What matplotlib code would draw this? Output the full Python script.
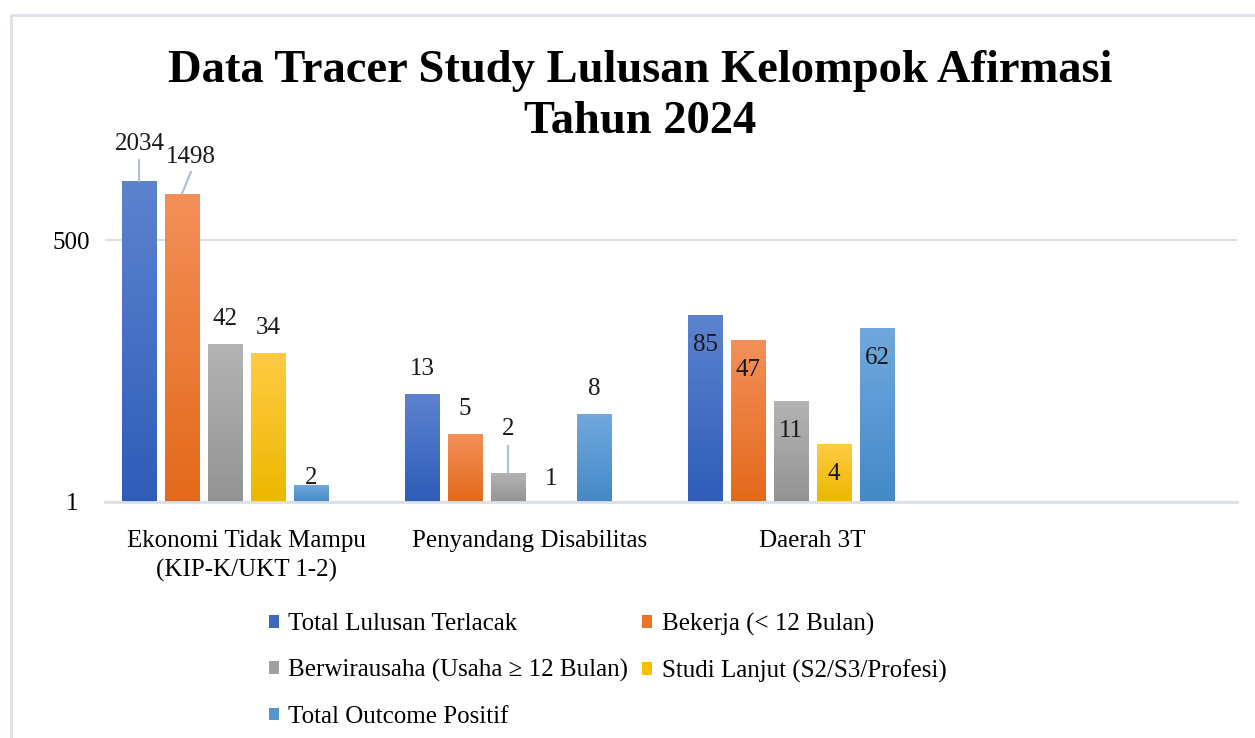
#!/usr/bin/env python3
# -*- coding: utf-8 -*-
"""
Data Tracer Study Lulusan Kelompok Afirmasi 2024 - bar chart (log scale)
"""
import matplotlib
matplotlib.use('Agg')
import matplotlib.pyplot as plt
import matplotlib.colors as mcolors
from matplotlib.patches import Patch, Rectangle
import numpy as np

plt.rcParams['font.family'] = ['Liberation Serif', 'DejaVu Serif']

# ============================================
# data
# ============================================
categories = ['Ekonomi Tidak Mampu\n(KIP-K/UKT 1-2)', 'Penyandang Disabilitas', 'Daerah 3T', '']
series = ['Total Lulusan Terlacak', 'Bekerja (< 12 Bulan)',
          'Berwirausaha (Usaha ≥ 12 Bulan)', 'Studi Lanjut (S2/S3/Profesi)',
          'Total Outcome Positif']
total_terlacak = [2034, 13, 85]
bekerja = [1498, 5, 47]
berwirausaha = [42, 2, 11]
studi_lanjut = [34, 1, 4]
outcome_positif = [1.5, 8, 62]
values = [total_terlacak, bekerja, berwirausaha, studi_lanjut, outcome_positif]

# gradient colours (top, bottom)
grad = [('#5C82CE', '#2E5CB8'),
        ('#F28F58', '#E3691B'),
        ('#B3B3B3', '#939393'),
        ('#FFCB42', '#EBB700'),
        ('#70A8DD', '#4488C7')]
legend_cols = ['#3F68C0', '#EA7426', '#A0A0A0', '#FAC000', '#5496D2']

# ============================================
# figure
# ============================================
W, H = 1255, 738
fig = plt.figure(figsize=(W / 100, H / 100), dpi=100)

def fx(px):
    return px / W

def fy(py):
    return 1 - py / H

# chart border
fig.patches.append(Rectangle((fx(11), fy(800)), fx(1300), fy(15) - fy(800),
                             transform=fig.transFigure, fill=False,
                             edgecolor='#DCE1E8', linewidth=2))

ax_top = 150
ax = fig.add_axes([fx(105), fy(502), fx(1237) - fx(105), fy(ax_top) - fy(502)])
ax.set_yscale('log', base=500)
ax.set_ylim(1, 500 ** ((502 - ax_top) / 262))
ax.set_xlim(0, 4)

slot = 43 / 283
bw = 35 / 283
for j, vals in enumerate(values):
    cmap = mcolors.LinearSegmentedColormap.from_list('g%d' % j, [grad[j][1], grad[j][0]])
    xs = np.arange(len(vals)) + 0.5 + (j - 2.5) * slot
    bars = ax.bar(xs, np.array(vals) - 1, width=bw, bottom=1, color='none',
                  edgecolor='none')
    for b, v in zip(bars, vals):
        if v <= 1:
            continue
        x0 = b.get_x()
        yy = np.geomspace(1, v, 60)
        ax.pcolormesh([x0, x0 + bw], yy, np.linspace(0, 1, 59).reshape(-1, 1),
                      cmap=cmap, shading='flat', zorder=2)

# ============================================
# data labels (offset in pixels from bar top), keys = (series, category)
# ============================================
fs = 18
special = {(0, 0): (1, 37), (1, 0): (9, 37), (2, 1): (0, 44),
           (4, 0): (0, 7), (3, 1): (0, 23)}
leader = {(0, 0): (0, 21), (1, 0): (9, 22), (2, 1): (0, 27)}
for j, vals in enumerate(values):
    for i, v in enumerate(vals):
        x = i + 0.5 + (j - 2.5) * slot
        if (j, i) in special:
            dx, dy = special[(j, i)]
        elif i == 2:
            dx, dy = 0, -30
        else:
            dx, dy = 0, 25
        ax.annotate('%.0f' % v, (x, v), xytext=(dx * 0.72, dy * 0.72),
                    textcoords='offset points', ha='center', va='center',
                    fontsize=fs, color='#1A1A1A', zorder=5, annotation_clip=False)
        if (j, i) in leader:
            lx, ly = leader[(j, i)]
            ax.annotate('', (x, v), xytext=(lx * 0.72, ly * 0.72),
                        textcoords='offset points',
                        arrowprops=dict(arrowstyle='-', color='#B4C0D6', lw=1.6,
                                        shrinkA=0, shrinkB=0))

# ============================================
# axes styling
# ============================================
ax.set_yticks([1, 500])
ax.set_yticklabels(['1', '500'], fontsize=fs, ha='center')
ax.yaxis.set_minor_locator(matplotlib.ticker.NullLocator())
ax.tick_params(axis='y', length=0, pad=24)
ax.set_xticks(np.arange(4) + 0.5)
ax.set_xticklabels(categories, fontsize=fs, linespacing=1.4)
ax.tick_params(axis='x', length=0, pad=20)
ax.grid(axis='y', color='#DCE1E8', linewidth=1.6)
ax.set_axisbelow(True)
for s in ['top', 'right', 'left']:
    ax.spines[s].set_visible(False)
ax.spines['bottom'].set_color('#DCE1E8')
ax.spines['bottom'].set_linewidth(2)
ax.patch.set_alpha(0)

fig.text(fx(640), fy(50), 'Data Tracer Study Lulusan Kelompok Afirmasi\nTahun 2024',
         ha='center', va='top', fontsize=33.5, fontweight='bold', linespacing=1.27)

# legend (row-major like the original)
handles = [Patch(facecolor=c, edgecolor='none') for c in legend_cols]
order = [0, 2, 4, 1, 3]
fig.legend([handles[k] for k in order], [series[k] for k in order], ncol=2,
           loc='upper left', bbox_to_anchor=(fx(256), fy(600)), frameon=False,
           fontsize=fs, handlelength=0.4, handleheight=0.4, handletextpad=0.4,
           columnspacing=0.55, labelspacing=0.95, borderpad=0)

fig.savefig('out.png', dpi=100)
print("saved out.png")
